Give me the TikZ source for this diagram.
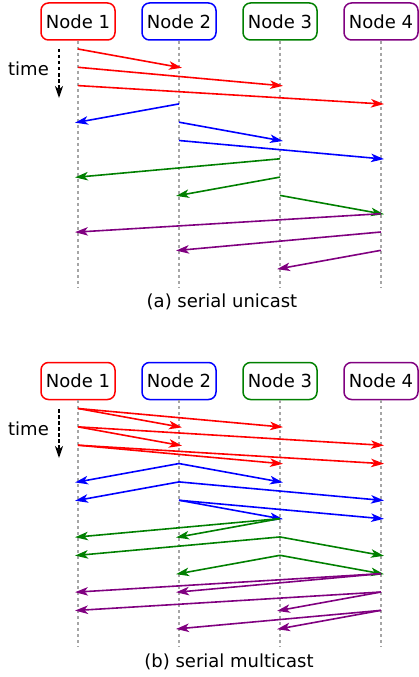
\documentclass[tikz,border=0pt]{standalone}
\usepackage{fontspec}
\setmainfont{DejaVu Sans}
\usetikzlibrary{arrows.meta}
\definecolor{cred}{RGB}{255,0,0}
\definecolor{cblue}{RGB}{0,0,255}
\definecolor{cgreen}{RGB}{0,128,0}
\definecolor{cpurple}{RGB}{128,0,128}
\newcommand\msgA[4]{\draw[msg,#1] (#2 |- 0,{49+18.3*#3}) -- (#4 |- 0,{49+18.3*(#3+1)});}
\newcommand\msgB[4]{\draw[msg,#1] (#2 |- 0,{408.5+18.35*#3}) -- (#4 |- 0,{408.5+18.35*(#3+1)});}
\begin{document}
\begin{tikzpicture}[x=1pt,y=-1pt,
  font=\fontsize{18}{22}\selectfont,
  actor/.style={draw,line width=1.5pt,rounded corners=7.5pt,minimum width=74pt,minimum height=37pt,inner sep=0pt},
  life/.style={draw=black!35,line width=1.3pt,dash pattern=on 3pt off 3pt},
  msg/.style={line width=1.6pt,shorten >=-3pt,-{Stealth[length=13pt,width=8.5pt,inset=3.5pt]}},
  timearrow/.style={line width=1.6pt,dash pattern=on 3.5pt off 2.5pt,-{Stealth[length=12pt,width=8pt,inset=3.5pt]}}]
\useasboundingbox (0,0) rectangle (418,677);
% ---------- panel (a)
\node[actor,draw=cred] (a1) at (78,21.5) {Node 1};
\node[actor,draw=cblue] (a2) at (179,21.5) {Node 2};
\node[actor,draw=cgreen] (a3) at (280,21.5) {Node 3};
\node[actor,draw=cpurple] (a4) at (381,21.5) {Node 4};
\foreach \n in {a1,a2,a3,a4}{
  \coordinate (\n e) at (\n |- 0,287);
  \draw[life] (\n) -- (\n e);
}
\node (timea) at (28.5,69) {time};
\coordinate (tas) at (59,49);
\coordinate (tae) at (59,98);
\draw[timearrow] (tas) -- (tae);
\msgA{cred}{a1}{0}{a2}
\msgA{cred}{a1}{1}{a3}
\msgA{cred}{a1}{2}{a4}
\msgA{cblue}{a2}{3}{a1}
\msgA{cblue}{a2}{4}{a3}
\msgA{cblue}{a2}{5}{a4}
\msgA{cgreen}{a3}{6}{a1}
\msgA{cgreen}{a3}{7}{a2}
\msgA{cgreen}{a3}{8}{a4}
\msgA{cpurple}{a4}{9}{a1}
\msgA{cpurple}{a4}{10}{a2}
\msgA{cpurple}{a4}{11}{a3}
\node (capa) at (222,302) {(a) serial unicast};
% ---------- panel (b)
\node[actor,draw=cred] (b1) at (78,381) {Node 1};
\node[actor,draw=cblue] (b2) at (179,381) {Node 2};
\node[actor,draw=cgreen] (b3) at (280,381) {Node 3};
\node[actor,draw=cpurple] (b4) at (381,381) {Node 4};
\foreach \n in {b1,b2,b3,b4}{
  \coordinate (\n e) at (\n |- 0,647);
  \draw[life] (\n) -- (\n e);
}
\node (timeb) at (28.5,429) {time};
\coordinate (tbs) at (59,409);
\coordinate (tbe) at (59,458);
\draw[timearrow] (tbs) -- (tbe);
\msgB{cred}{b1}{0}{b2}
\msgB{cred}{b1}{0}{b3}
\msgB{cred}{b1}{1}{b2}
\msgB{cred}{b1}{1}{b4}
\msgB{cred}{b1}{2}{b3}
\msgB{cred}{b1}{2}{b4}
\msgB{cblue}{b2}{3}{b1}
\msgB{cblue}{b2}{3}{b3}
\msgB{cblue}{b2}{4}{b1}
\msgB{cblue}{b2}{4}{b4}
\msgB{cblue}{b2}{5}{b3}
\msgB{cblue}{b2}{5}{b4}
\msgB{cgreen}{b3}{6}{b1}
\msgB{cgreen}{b3}{6}{b2}
\msgB{cgreen}{b3}{7}{b1}
\msgB{cgreen}{b3}{7}{b4}
\msgB{cgreen}{b3}{8}{b2}
\msgB{cgreen}{b3}{8}{b4}
\msgB{cpurple}{b4}{9}{b1}
\msgB{cpurple}{b4}{9}{b2}
\msgB{cpurple}{b4}{10}{b1}
\msgB{cpurple}{b4}{10}{b3}
\msgB{cpurple}{b4}{11}{b2}
\msgB{cpurple}{b4}{11}{b3}
\node (capb) at (229,662) {(b) serial multicast};
\end{tikzpicture}
\end{document}
